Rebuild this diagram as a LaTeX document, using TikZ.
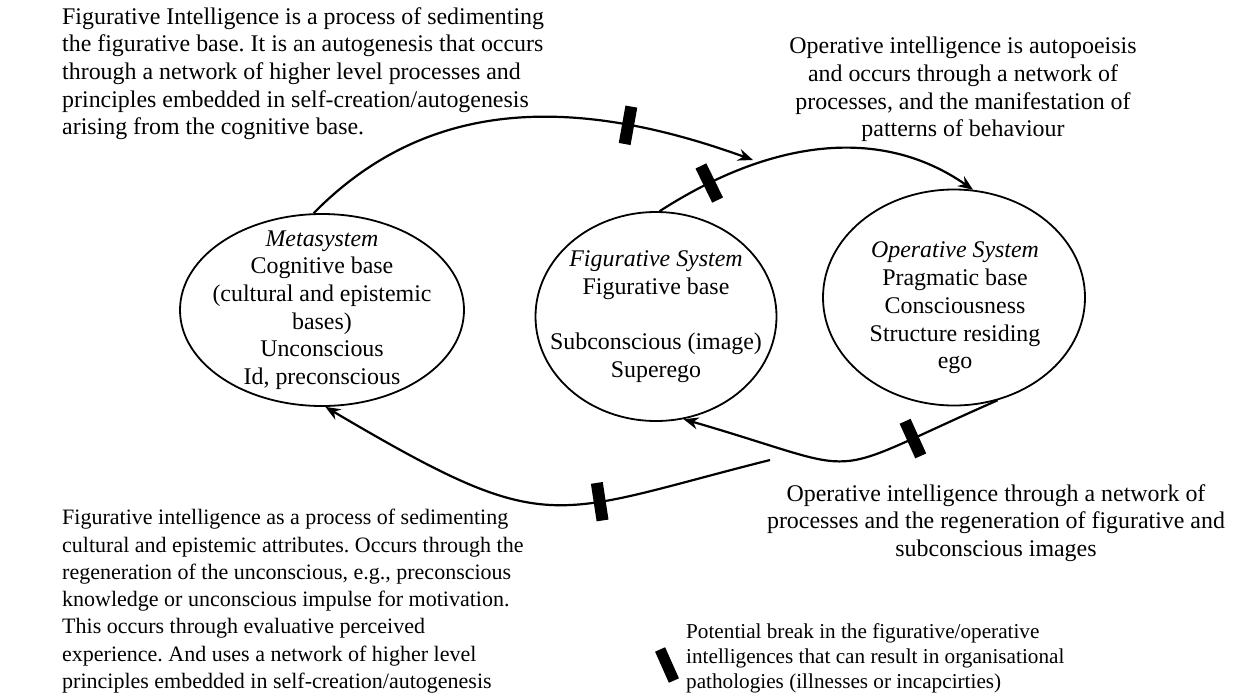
\documentclass[tikz,border=0pt]{standalone}
\usepackage{fontspec}
\setmainfont{Liberation Serif}
\usetikzlibrary{arrows.meta,shapes.geometric}
\frenchspacing

\begin{document}
\begin{tikzpicture}[x=1pt,y=-1pt,>={Stealth[length=15pt,width=12pt,inset=5pt]},
  sys/.style={draw,ellipse,line width=1.8pt,inner sep=0pt},
  systxt/.style={align=center,font=\fontsize{23.9}{27.7}\selectfont,inner sep=0pt},
  note/.style={font=\fontsize{23.9}{27.7}\selectfont,inner sep=0pt},
  flow/.style={->,line width=2.2pt},
  brk/.style={fill=black,minimum width=12pt,minimum height=38pt,inner sep=0pt,sloped}]
\useasboundingbox (0,0) rectangle (1234,694);
\node[sys,minimum width=284pt,minimum height=192pt] (meta) at (322,310) {};
\node[sys,minimum width=241pt,minimum height=209pt] (fig) at (656,316.5) {};
\node[sys,minimum width=262pt,minimum height=216pt] (oper) at (954,297.5) {};
\node[systxt] (metatxt) at (meta.center) {\textit{Metasystem}\\Cognitive base\\(cultural and epistemic\\bases)\\Unconscious\\Id, preconscious};
\node[systxt] (figtxt) at (fig.center) {\textit{Figurative System}\\Figurative base\\[27.7pt]Subconscious (image)\\Superego};
\node[systxt] (opertxt) at (955,308) {\textit{Operative System}\\Pragmatic base\\Consciousness\\Structure residing\\ego};
\node[note,align=left,anchor=north west] (figup) at (62,7) {Figurative Intelligence is a process of sedimenting\\the figurative base. It is an autogenesis that occurs\\through a network of higher level processes and\\principles embedded in self-creation/autogenesis\\arising from the cognitive base.};
\node[note,align=center,anchor=north] (operup) at (963,37) {Operative intelligence is autopoeisis\\and occurs through a network of\\processes, and the manifestation of\\patterns of behaviour};
\node[note,align=center,anchor=north] (operdown) at (996,484) {Operative intelligence through a network of\\processes and the regeneration of figurative and\\subconscious images};
\node[note,font=\fontsize{22}{27.3}\selectfont,align=left,anchor=north west] (figdown) at (62,509) {Figurative intelligence as a process of sedimenting\\cultural and epistemic attributes. Occurs through the\\regeneration of the unconscious, e.g., preconscious\\knowledge or unconscious impulse for motivation.\\This occurs through evaluative perceived\\experience. And uses a network of higher level\\principles embedded in self-creation/autogenesis};
\coordinate (c1) at (753,160);
\coordinate (c4) at (770,460);
\draw[flow] (meta.95) .. controls (420,105) and (560,90) .. (c1) node[brk,pos=.77] (b1) {};
\draw[flow] (fig.88) .. controls (770,140) and (880,125) .. (oper.80) node[brk,pos=.15] (b2) {};
\draw[flow] (oper.-67) .. controls (814,481) and (876,475) .. (fig.-75) node[brk,pos=.2] (b3) {};
\draw[flow] (c4) .. controls (547,516) and (551,540) .. (meta.-88) node[brk,pos=.35] (b4) {};
\node[fill=black,minimum width=11pt,minimum height=34pt,inner sep=0pt,rotate=24] (lgmark) at (667,665) {};
\node[font=\fontsize{21.2}{25}\selectfont,inner sep=0pt,align=left,anchor=north west] (lgtxt) at (686,623) {Potential break in the figurative/operative\\intelligences that can result in organisational\\pathologies (illnesses or incapcirties)};
\end{tikzpicture}
\end{document}
